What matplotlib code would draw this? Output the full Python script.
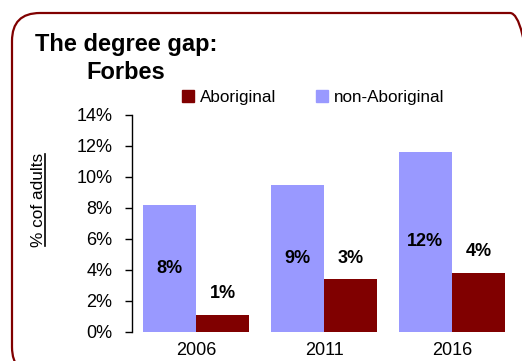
import matplotlib
matplotlib.use("Agg")
import matplotlib.pyplot as plt
import numpy as np
from matplotlib.patches import Patch, FancyBboxPatch
from matplotlib.lines import Line2D
from matplotlib.transforms import IdentityTransform
from matplotlib.ticker import FuncFormatter

plt.rcParams['font.family'] = ['Liberation Sans', 'DejaVu Sans']

years = ['2006', '2011', '2016']
non_aboriginal = [8.17, 9.48, 11.61]
aboriginal = [1.10, 3.38, 3.81]
series_names = ['Aboriginal', 'non-Aboriginal']
yticks = [0, 2, 4, 6, 8, 10, 12, 14]

c_non = '#9999FF'
c_abo = '#800000'

W, H, DPI = 522, 361, 100
fig = plt.figure(figsize=(W / DPI, H / DPI), dpi=DPI)
ax = fig.add_axes([132 / W, (H - 331.7) / H, 384 / W, (331.7 - 115) / H])

x = np.arange(len(years))
bw = 0.4156
ax.bar(x - bw / 2, non_aboriginal, bw, color=c_non, label=series_names[1])
ax.bar(x + bw / 2, aboriginal, bw, color=c_abo, label=series_names[0])

for xi, v in zip(x, non_aboriginal):
    ax.text(xi - bw / 2, v / 2, f"{v:.0f}%", ha='center', va='center',
            fontsize=13, fontweight='bold', color='black')
for xi, v in zip(x, aboriginal):
    ax.annotate(f"{v:.0f}%", (xi + bw / 2, v), xytext=(0, 15),
                textcoords='offset points', ha='center', va='center',
                fontsize=13, fontweight='bold', color='black')

ax.set_xlim(-0.5, 2.5)
ax.set_ylim(0, 14)
ax.set_yticks(yticks)
ax.yaxis.set_major_formatter(FuncFormatter(lambda v, p: f"{v:.0f}%"))
ax.set_xticks(x)
ax.set_xticklabels(years)
ax.tick_params(axis='y', direction='out', length=5, width=1, pad=9, labelsize=13)
ax.tick_params(axis='x', length=0, pad=7.5, labelsize=13)
for s in ['top', 'right', 'bottom']:
    ax.spines[s].set_visible(False)
ax.spines['left'].set_linewidth(1)
ax.yaxis.get_major_ticks()[0].tick1line.set_color('#999999')

ylab = fig.text(38.5 / W, 1 - 200 / H, '% cof adults', rotation=90,
                ha='center', va='center', fontsize=12.4)

handles = [Patch(color=c_abo), Patch(color=c_non)]
fig.legend(handles, series_names, loc='upper left',
           bbox_to_anchor=(182 / W, 1 - 90 / H), ncol=2, frameon=False,
           fontsize=12.3, handlelength=0.7, handleheight=0.7,
           handletextpad=0.35, columnspacing=2.3, borderpad=0,
           borderaxespad=0)

fig.text(126 / W, 1 - 50.7 / H, 'The degree gap:', ha='center', va='baseline',
         fontsize=17, fontweight='bold')
fig.text(126 / W, 1 - 79 / H, 'Forbes', ha='center', va='baseline',
         fontsize=17, fontweight='bold')

frame = FancyBboxPatch((12, -14), 526, H - 13 + 14,
                       boxstyle="round,pad=0,rounding_size=28",
                       transform=IdentityTransform(), fill=False,
                       edgecolor=c_abo, linewidth=1.6)
fig.add_artist(frame)

# underline the rotated y label
fig.canvas.draw()
bb = ylab.get_window_extent(fig.canvas.get_renderer())
ux = bb.x1 - 1.5
fig.add_artist(Line2D([ux, ux], [bb.y0 + 1, bb.y1 - 1], transform=IdentityTransform(),
                      color='black', linewidth=1.2))

fig.savefig('out.png', dpi=DPI)
